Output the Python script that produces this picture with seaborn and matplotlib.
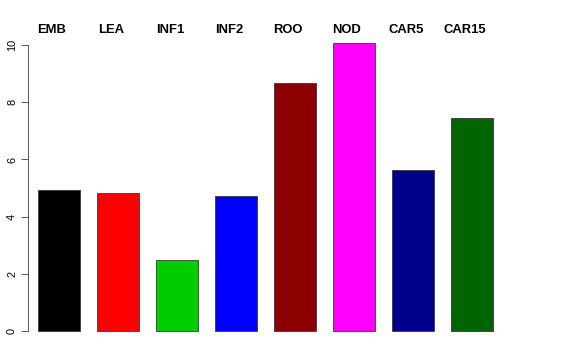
import seaborn as sns
import matplotlib.pyplot as plt
import pandas as pd

names = ['EMB', 'LEA', 'INF1', 'INF2', 'ROO', 'NOD', 'CAR5', 'CAR15']
values = [4.93, 4.83, 2.48, 4.73, 8.68, 10.07, 5.63, 7.44]
colors = ['#000000', '#FF0000', '#00CD00', '#0000FF', '#8B0000', '#FF00FF', '#00008B', '#006400']
yticks = [0, 2, 4, 6, 8, 10]

df = pd.DataFrame({'name': names, 'value': values})

sns.set_style('white')
plt.rcParams['font.family'] = ['Liberation Sans', 'DejaVu Sans']
plt.rcParams['text.color'] = 'black'
plt.rcParams['ytick.color'] = 'black'

fig = plt.figure(figsize=(8, 5), dpi=72)
ax = fig.add_axes([28 / 576, 1 - 342.5 / 360, (515 - 28) / 576, (342.5 - 31.6) / 360])
sns.barplot(data=df, x='name', y='value', hue='name', palette=colors, legend=False,
            saturation=1, width=0.712, edgecolor='#333333', linewidth=0.8, ax=ax)

ax.set_xlim(-0.525, 7.73)
ax.set_ylim(-0.4, 10.47)
ax.set_xlabel('')
ax.set_ylabel('')
ax.set_xticks([])
ax.set_yticks(yticks)
ax.set_yticklabels([str(t) for t in yticks], rotation=90, va='center', fontsize=11)
ax.tick_params(axis='y', length=7, width=0.8, color='#333333', labelcolor='black', left=True, pad=4)
for s in ['top', 'right', 'bottom']:
    ax.spines[s].set_visible(False)
ax.spines['left'].set_bounds(0, 10)
ax.spines['left'].set_color('#333333')
ax.spines['left'].set_linewidth(0.8)

for i, n in enumerate(names):
    ax.text(i - 0.12, 10.52, n, ha='center', va='center', fontsize=13,
            fontweight='bold', color='black', clip_on=False)

fig.savefig('out.png', dpi=72)
